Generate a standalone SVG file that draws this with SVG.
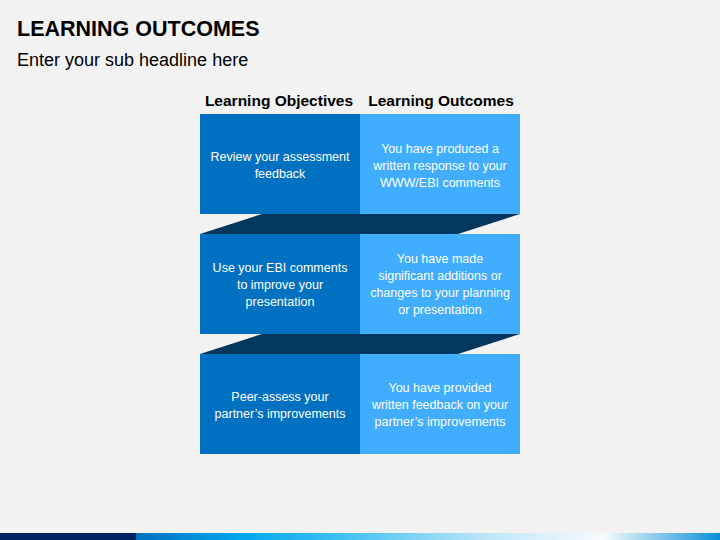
<svg xmlns="http://www.w3.org/2000/svg" width="720" height="540" viewBox="0 0 720 540">
<defs>
<linearGradient id="bar" x1="136" y1="0" x2="720" y2="0" gradientUnits="userSpaceOnUse">
<stop offset="0" stop-color="#0070C0"/>
<stop offset="0.18" stop-color="#00A8EC"/>
<stop offset="0.35" stop-color="#3FC0F2"/>
<stop offset="0.6" stop-color="#BDE6F8"/>
<stop offset="0.8" stop-color="#F7FBFD"/>
<stop offset="1" stop-color="#0A8FD8"/>
</linearGradient>
<style>
.t{font-family:"Liberation Sans",Arial,sans-serif;}
.h{font-family:"Liberation Sans",Arial,sans-serif;font-weight:bold;font-size:15.5px;fill:#000;text-anchor:middle;}
.b{font-family:"Liberation Sans",Arial,sans-serif;font-size:12.5px;fill:#fff;text-anchor:middle;}
.l{fill:#0070C0;}
.r{fill:#41ADFF;}
.band{fill:#02375E;}
</style>
</defs>
<rect width="720" height="540" fill="#F2F2F2"/>
<text class="t" x="17" y="36" font-size="21.5" font-weight="bold" fill="#000">LEARNING OUTCOMES</text>
<text class="t" x="17" y="66" font-size="18" fill="#000">Enter your sub headline here</text>
<text class="h" x="279" y="106">Learning Objectives</text>
<text class="h" x="441" y="106">Learning Outcomes</text>
<g id="connectors">
<polygon class="band" points="262,214 520,214 458,234 200,234"/>
<polygon class="band" points="262,334 520,334 458,354 200,354"/>
</g>
<g id="obj1">
<rect class="l" x="200" y="114" width="160" height="100"/>
<text class="b" x="280" y="161">Review your assessment</text>
<text class="b" x="280" y="178">feedback</text>
</g>
<g id="out1">
<rect class="r" x="360" y="114" width="160" height="100"/>
<text class="b" x="440" y="153">You have produced a</text>
<text class="b" x="440" y="170">written response to your</text>
<text class="b" x="440" y="187">WWW/EBI comments</text>
</g>
<g id="obj2">
<rect class="l" x="200" y="234" width="160" height="100"/>
<text class="b" x="280" y="272">Use your EBI comments</text>
<text class="b" x="280" y="289">to improve your</text>
<text class="b" x="280" y="306">presentation</text>
</g>
<g id="out2">
<rect class="r" x="360" y="234" width="160" height="100"/>
<text class="b" x="440" y="263">You have made</text>
<text class="b" x="440" y="280">significant additions or</text>
<text class="b" x="440" y="297">changes to your planning</text>
<text class="b" x="440" y="314">or presentation</text>
</g>
<g id="obj3">
<rect class="l" x="200" y="354" width="160" height="100"/>
<text class="b" x="280" y="401">Peer-assess your</text>
<text class="b" x="280" y="418">partner’s improvements</text>
</g>
<g id="out3">
<rect class="r" x="360" y="354" width="160" height="100"/>
<text class="b" x="440" y="392">You have provided</text>
<text class="b" x="440" y="409">written feedback on your</text>
<text class="b" x="440" y="426">partner’s improvements</text>
</g>
<rect x="0" y="533" width="136" height="7" fill="#002060"/>
<rect x="136" y="533" width="584" height="7" fill="url(#bar)"/>
</svg>
